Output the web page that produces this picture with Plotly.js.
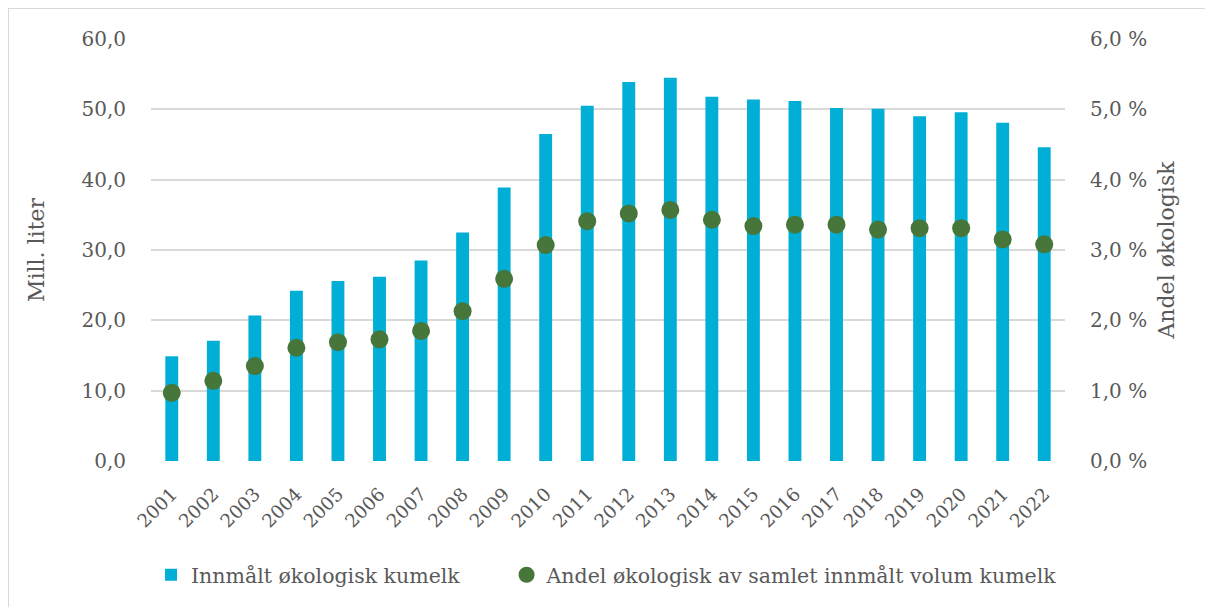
<!DOCTYPE html>
<html>
<head>
<meta charset="utf-8">
<script src="https://cdn.plot.ly/plotly-3.0.1.min.js"></script>
<style>
  html, body { margin: 0; padding: 0; background: #fff; }
  #wrap { position: relative; width: 1205px; height: 607px; overflow: hidden; }
  #chart { width: 1205px; height: 607px; }
  #frame { position: absolute; left: 8px; top: 8px; width: 1210px; height: 610px; border: 1.5px solid #d9d9d9; pointer-events: none; box-sizing: border-box; }
</style>
</head>
<body>
<div id="wrap">
  <div id="chart"></div>
  <div id="frame"></div>
</div>
<script>
const years = ['2001','2002','2003','2004','2005','2006','2007','2008','2009','2010','2011','2012','2013','2014','2015','2016','2017','2018','2019','2020','2021','2022'];
const volumeMillLiter = [14.9, 17.1, 20.7, 24.2, 25.6, 26.2, 28.5, 32.5, 38.9, 46.5, 50.5, 53.9, 54.5, 51.8, 51.4, 51.2, 50.2, 50.1, 49.0, 49.6, 48.1, 44.6];
const sharePercent = [0.97, 1.14, 1.35, 1.61, 1.69, 1.73, 1.85, 2.13, 2.59, 3.07, 3.41, 3.52, 3.57, 3.43, 3.34, 3.36, 3.36, 3.29, 3.31, 3.31, 3.15, 3.08];
const seriesNames = ['Innmålt økologisk kumelk', 'Andel økologisk av samlet innmålt volum kumelk'];

const fontFam = 'DejaVu Serif, Liberation Serif, serif';
const gray = '#595959';

const data = [
  {
    type: 'bar', x: years, y: volumeMillLiter, name: seriesNames[0],
    marker: { color: '#00AED6' }, yaxis: 'y', hoverinfo: 'x+y', legend: 'legend'
  },
  {
    type: 'scatter', mode: 'markers', x: years, y: sharePercent, name: seriesNames[1],
    marker: { color: '#47763A', size: 18 }, yaxis: 'y2', hoverinfo: 'x+y', legend: 'legend2'
  }
];

const legendFont = { family: fontFam, size: 20.5, color: gray };
const layout = {
  width: 1205, height: 607,
  margin: { l: 151, r: 140, t: 39, b: 144 },
  paper_bgcolor: '#fff', plot_bgcolor: '#fff',
  separators: ', ',
  font: { family: fontFam, color: gray, size: 19 },
  bargap: 0.69,
  showlegend: true,
  legend: {
    orientation: 'h', x: 0.0, xanchor: 'left', y: -0.27, yanchor: 'middle',
    font: legendFont
  },
  legend2: {
    orientation: 'h', x: 0.389, xanchor: 'left', y: -0.27, yanchor: 'middle',
    font: legendFont
  },
  xaxis: {
    type: 'category', range: [-0.5, 21.5], tickangle: -45, showgrid: false, zeroline: false,
    showline: false, ticks: 'outside', ticklen: 14, tickcolor: 'rgba(0,0,0,0)',
    tickfont: { family: fontFam, size: 18.5, color: gray }
  },
  yaxis: {
    range: [0, 60], dtick: 10, tickformat: '.1f',
    gridcolor: '#d9d9d9', gridwidth: 1.5, zeroline: false, showline: false,
    ticks: 'outside', ticklen: 20, tickcolor: 'rgba(0,0,0,0)',
    tickfont: { family: fontFam, size: 20, color: gray },
    title: { text: 'Mill. liter', font: { family: fontFam, size: 22, color: gray }, standoff: 30 }
  },
  yaxis2: {
    overlaying: 'y', side: 'right', range: [0, 6], dtick: 1, tickformat: '.1f', ticksuffix: ' %',
    showgrid: false, zeroline: false, showline: false,
    ticks: 'outside', ticklen: 20, tickcolor: 'rgba(0,0,0,0)',
    tickfont: { family: fontFam, size: 20, color: gray },
    title: { text: 'Andel økologisk', font: { family: fontFam, size: 22, color: gray }, standoff: 12 }
  }
};

Plotly.newPlot('chart', data, layout, { displayModeBar: false, responsive: false });
</script>
</body>
</html>
